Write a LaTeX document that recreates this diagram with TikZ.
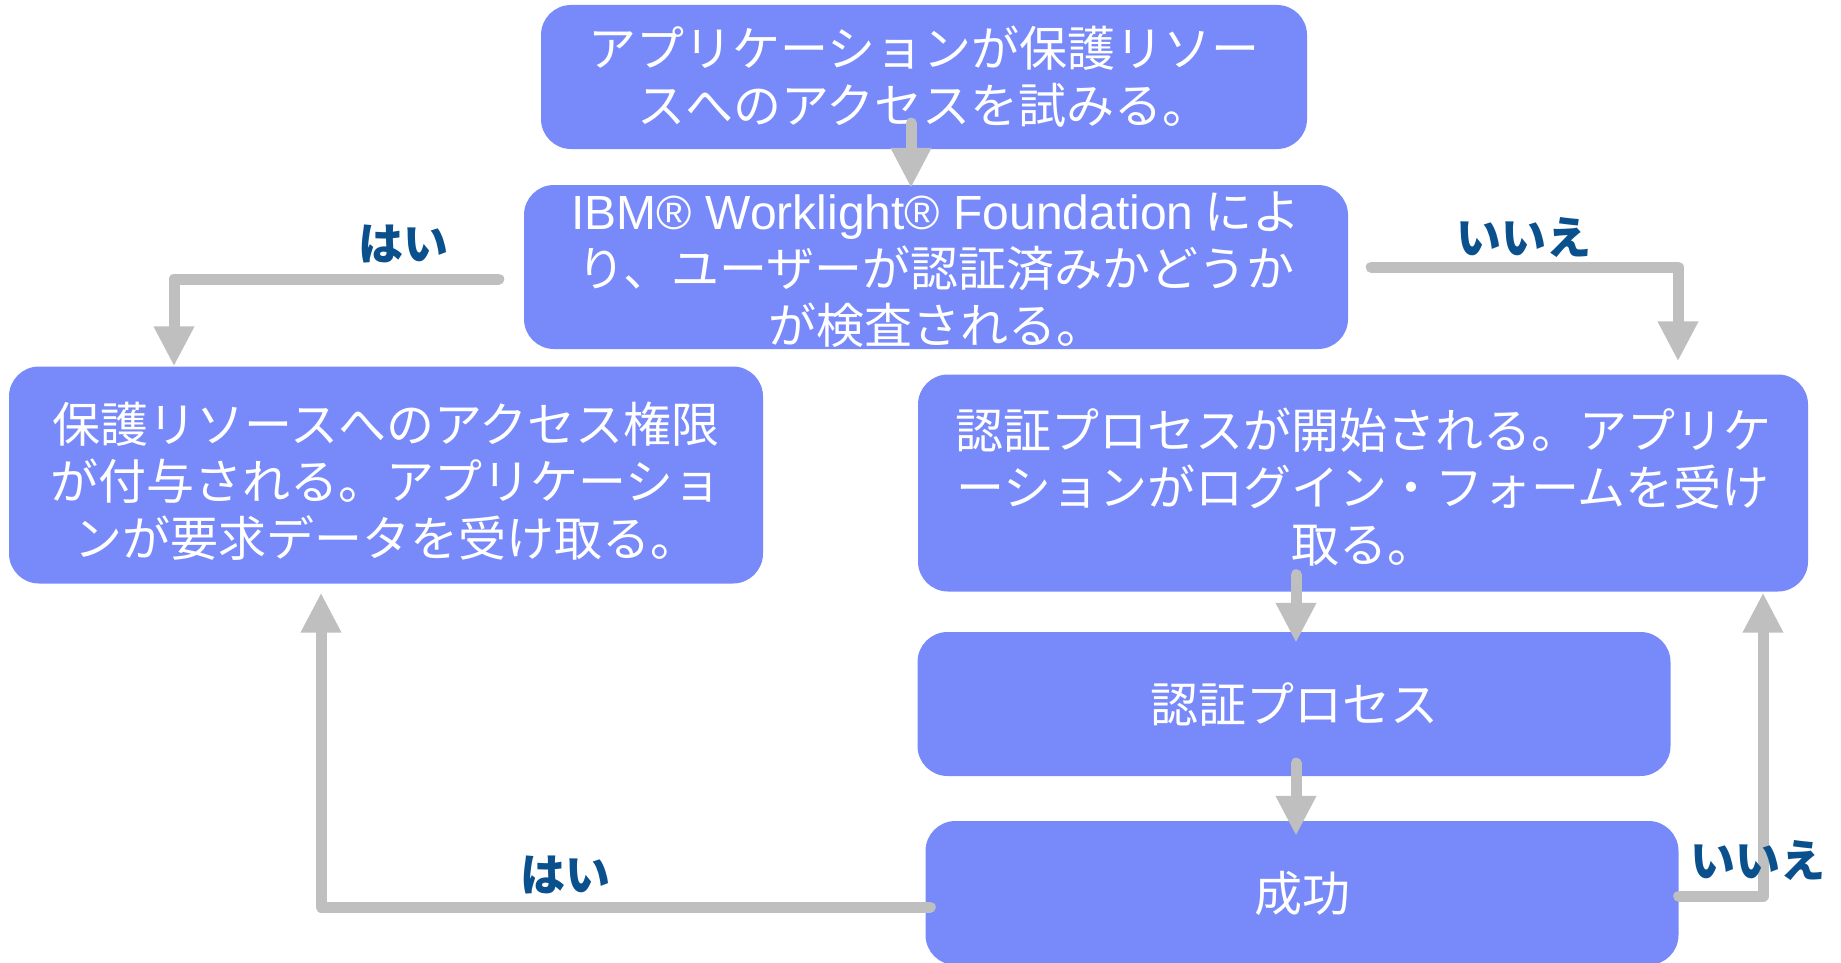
\documentclass[tikz,border=0pt]{standalone}
\usepackage{fontspec}
\setmainfont{Noto Sans CJK JP}
\newfontfamily\latinfont{Liberation Sans}
\usetikzlibrary{arrows.meta}
\definecolor{boxblue}{RGB}{120,138,250}
\definecolor{arrgray}{RGB}{191,191,191}
\definecolor{lblblue}{RGB}{10,80,140}
\tikzset{
  boxtext/.style={text=white, align=center, font=\fontsize{48}{57}\selectfont, inner sep=0pt},
  box/.style={fill=boxblue, draw=none, rounded corners=30pt, boxtext},
  arr/.style={draw=arrgray, line width=11pt, line cap=round, line join=round,
    -{Triangle[width=38pt,length=40pt]}},
  lbl/.style={text=lblblue, font=\fontsize{45}{50}\selectfont\bfseries, inner sep=0pt}
}
\begin{document}
\begin{tikzpicture}[x=1pt,y=-1pt]
\useasboundingbox (0,0) rectangle (1841,963);
\begin{scope}
\clip (0,0) rectangle (1841,963);
\node[box, minimum width=766pt, minimum height=144pt] (b1) at (924,77)
  {アプリケーションが保護リソー\\スへのアクセスを試みる。};
\node[box, minimum width=824pt, minimum height=164pt] (b2) at (936,267) {};
\node[boxtext] (t2) at ([yshift=-3pt]b2.center)
  {{\latinfont IBM® Worklight® Foundation} によ\\り、ユーザーが認証済みかどうか\\が検査される。};
\node[box, minimum width=754pt, minimum height=217pt] (b3) at (386,475) {};
\node[boxtext] (t3) at ([yshift=-6pt]b3.center)
  {保護リソースへのアクセス権限\\が付与される。アプリケーショ\\ンが要求データを受け取る。};
\node[box, minimum width=890pt, minimum height=217pt] (b4) at (1363,483) {};
\node[boxtext] (t4) at ([yshift=-4pt]b4.center)
  {認証プロセスが開始される。アプリケ\\ーションがログイン・フォームを受け\\取る。};
\node[box, minimum width=753pt, minimum height=144pt] (b5) at (1294,704)
  {認証プロセス};
\node[box, minimum width=753pt, minimum height=144pt] (b6) at (1302,893)
  {成功};
\end{scope}

\draw[arr] ([xshift=-13pt,yshift=26pt]b1.south) -- ([xshift=-25pt,yshift=-3pt]b2.north);
\draw[arr] ([xshift=-25pt,yshift=-12pt]b2.west) -| ([xshift=-212pt]b3.north);
\draw[arr] ([xshift=23pt]b2.east) -| ([xshift=315pt,yshift=13pt]b4.north);
\draw[arr] ([xshift=-67pt,yshift=17pt]b4.south) -- ([xshift=2pt,yshift=-11pt]b5.north);
\draw[arr] ([xshift=2pt,yshift=13pt]b5.south) -- ([xshift=-6pt,yshift=-15pt]b6.north);
\draw[arr] ([xshift=5pt,yshift=-14pt]b6.west) -| ([xshift=-65pt,yshift=-9pt]b3.south);
\draw[arr] ([yshift=-3pt]b6.east) -| ([xshift=400pt,yshift=-1pt]b4.south);

\node[lbl] (l1) at (403,244) {はい};
\node[lbl] (l2) at (1524,238) {いいえ};
\node[lbl] (l3) at (565,875) {はい};
\node[lbl] (l4) at (1758,861) {いいえ};
\end{tikzpicture}
\end{document}
